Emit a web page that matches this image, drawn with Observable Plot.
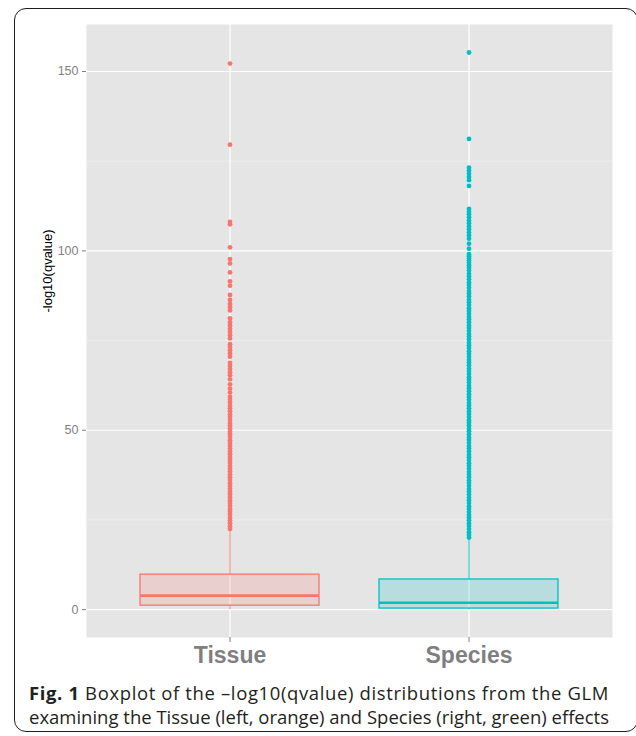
<!DOCTYPE html>
<html>
<head>
<meta charset="utf-8">
<script src="https://cdn.jsdelivr.net/npm/d3@7"></script>
<script src="https://cdn.jsdelivr.net/npm/@observablehq/plot@0.6"></script>
<style>
  html, body { margin: 0; padding: 0; background: #fff; }
  body { width: 636px; height: 736px; overflow: hidden; position: relative; }
  #frame { position: absolute; left: 14px; top: 8px; width: 624px; height: 724px;
           border: 1.5px solid #1e1e1e; border-radius: 12px; box-sizing: border-box; }
  #chart { position: absolute; left: 0; top: 0; }
  #ylabel { position: absolute; left: 46.5px; top: 271px; transform: translate(-50%, -50%) rotate(-90deg);
            font-family: "Liberation Sans", Arial, sans-serif; font-size: 13px; color: #000; white-space: nowrap; }
  #caption { position: absolute; left: 29px; top: 681px; font-family: "Open Sans", "Noto Sans", sans-serif;
             color: #231f20; }
  #caption .line { white-space: nowrap; line-height: 24px; display: block; }
  #caption .line span.inner { display: inline-block; }
</style>
</head>
<body>
<div id="frame"></div>
<div id="chart"></div>
<div id="ylabel">-log10(qvalue)</div>
<div id="caption">
  <div class="line"><span class="inner"><b>Fig. 1</b> Boxplot of the –log10(qvalue) distributions from the GLM</span></div>
  <div class="line"><span class="inner">examining the Tissue (left, orange) and Species (right, green) effects</span></div>
</div>
<script>
const categories = ["Tissue", "Species"];
const colors = ["#F8766D", "#00BFC4"];
const lowerWhisker = [0, 0];
const q1 = [1.1, 0.3];
const medians = [3.9, 1.9];
const q3 = [9.75, 8.4];
const upperWhisker = [22.3, 20.0];
const yTicks = [0, 50, 100, 150];
const yMinor = [25, 75, 125];

const tissueOutliers = [22.5, 23.2, 24.1, 24.9, 25.6, 26.5, 27.3, 28.0, 28.9, 29.7, 30.4, 31.3, 32.1, 32.8,
  33.7, 34.5, 35.2, 36.1, 36.9, 37.7, 38.5, 39.3, 40.0, 40.9, 41.7, 42.4, 43.3, 44.1, 44.9, 45.7, 46.5, 47.2,
  48.1, 48.9, 49.6, 50.5, 51.3, 52.0, 52.9, 53.7, 54.4, 55.3, 56.1, 56.8, 57.7, 58.5, 59.3, 60.5, 61.6, 62.8,
  64.2, 65.3, 66.2, 67.1, 68.0, 68.8, 70.5, 71.4, 72.3, 73.2, 74.0, 75.6, 76.5, 77.4, 78.3, 79.2, 80.1, 81.2,
  83.4, 84.3, 85.2, 86.3, 87.7, 90.3, 91.5, 94.0, 96.5, 97.7, 101.0, 107.4, 108.1, 129.6, 152.2];

const speciesOutliers = [20.1, 20.8, 21.6, 22.5, 23.3, 24.0, 24.9, 25.7, 26.4, 27.3, 28.1, 28.8, 29.7, 30.5,
  31.2, 32.1, 32.9, 33.6, 34.5, 35.3, 36.0, 36.9, 37.7, 38.4, 39.3, 40.1, 40.8, 41.7, 42.5, 43.2, 44.1, 44.9,
  45.6, 46.5, 47.3, 48.0, 48.9, 49.7, 50.4, 51.3, 52.1, 52.8, 53.7, 54.5, 55.2, 56.1, 56.9, 57.6, 58.5, 59.3,
  60.0, 60.9, 61.7, 62.4, 63.3, 64.1, 64.8, 65.7, 66.5, 67.2, 68.1, 68.9, 69.6, 70.5, 71.3, 72.0, 72.9, 73.7,
  74.4, 75.3, 76.1, 76.8, 77.7, 78.5, 79.2, 80.1, 80.9, 81.6, 82.5, 83.3, 84.0, 84.9, 85.7, 86.4, 87.3, 88.1,
  88.8, 89.7, 90.5, 91.2, 92.1, 92.9, 93.6, 94.5, 95.3, 96.0, 96.7, 97.3, 97.9, 98.5, 99.1, 100.6, 102.0,
  103.4, 104.3, 105.1, 106.0, 106.8, 107.7, 108.5, 109.4, 110.2, 110.9, 111.7, 118.1, 119.7, 120.6, 121.5,
  122.4, 123.2, 131.2, 155.3];

const boxes = categories.map((cat, i) => ({
  cat, lw: lowerWhisker[i], q1: q1[i], med: medians[i], q3: q3[i], uw: upperWhisker[i]
}));
const outliers = [
  ...tissueOutliers.map(v => ({cat: "Tissue", v})),
  ...speciesOutliers.map(v => ({cat: "Species", v}))
];

const chart = Plot.plot({
  width: 636,
  height: 682,
  marginLeft: 86,
  marginRight: 24,
  marginTop: 24,
  marginBottom: 45,
  style: {fontFamily: "'Liberation Sans', Arial, sans-serif", background: "transparent", overflow: "visible"},
  x: {type: "band", domain: categories, paddingInner: 0.25, paddingOuter: 0.225, label: null},
  y: {domain: [-7.77, 163.1], label: null},
  color: {domain: categories, range: colors},
  marks: [
    Plot.frame({fill: "#E5E5E5", stroke: "none"}),
    Plot.ruleY(yMinor, {stroke: "#F2F2F2", strokeWidth: 0.6}),
    Plot.ruleY(yTicks, {stroke: "#FFFFFF", strokeWidth: 1.2}),
    Plot.ruleX(categories, {x: d => d, stroke: "#FFFFFF", strokeWidth: 1.2}),
    Plot.ruleX(boxes, {x: "cat", y1: "q3", y2: "uw", stroke: "cat", strokeWidth: 1}),
    Plot.ruleX(boxes, {x: "cat", y1: "lw", y2: "q1", stroke: "cat", strokeWidth: 1}),
    Plot.barY(boxes, {x: "cat", y1: "q1", y2: "q3", fill: "cat", fillOpacity: 0.2, stroke: "cat", strokeWidth: 1.3}),
    Plot.tickY(boxes, {x: "cat", y: "med", stroke: "cat", strokeWidth: 2.6}),
    Plot.dot(outliers, {x: "cat", y: "v", fill: "cat", r: 2.4, stroke: "none"}),
    Plot.axisY({ticks: yTicks, tickSize: 4, tickPadding: 4, color: "#7F7F7F", fontSize: 12.5, label: null}),
    Plot.axisX({tickSize: 5, tickPadding: 4, color: "#7F7F7F", fontSize: 23, fontWeight: "bold", label: null})
  ]
});
document.getElementById("chart").appendChild(chart);

// one font size for both caption lines; letter-spacing so each line spans the reference width
const lines = Array.from(document.querySelectorAll("#caption .line"));
const target = 580;
lines.forEach(l => l.style.fontSize = "16px");
const widths = lines.map(l => l.querySelector(".inner").getBoundingClientRect().width);
const size = 16 * target / Math.max(...widths);
lines.forEach(l => l.style.fontSize = size + "px");
lines.forEach(l => {
  const inner = l.querySelector(".inner");
  const w = inner.getBoundingClientRect().width;
  const n = inner.textContent.length;
  if (w < target) l.style.letterSpacing = ((target - w) / n) + "px";
});
</script>
</body>
</html>
